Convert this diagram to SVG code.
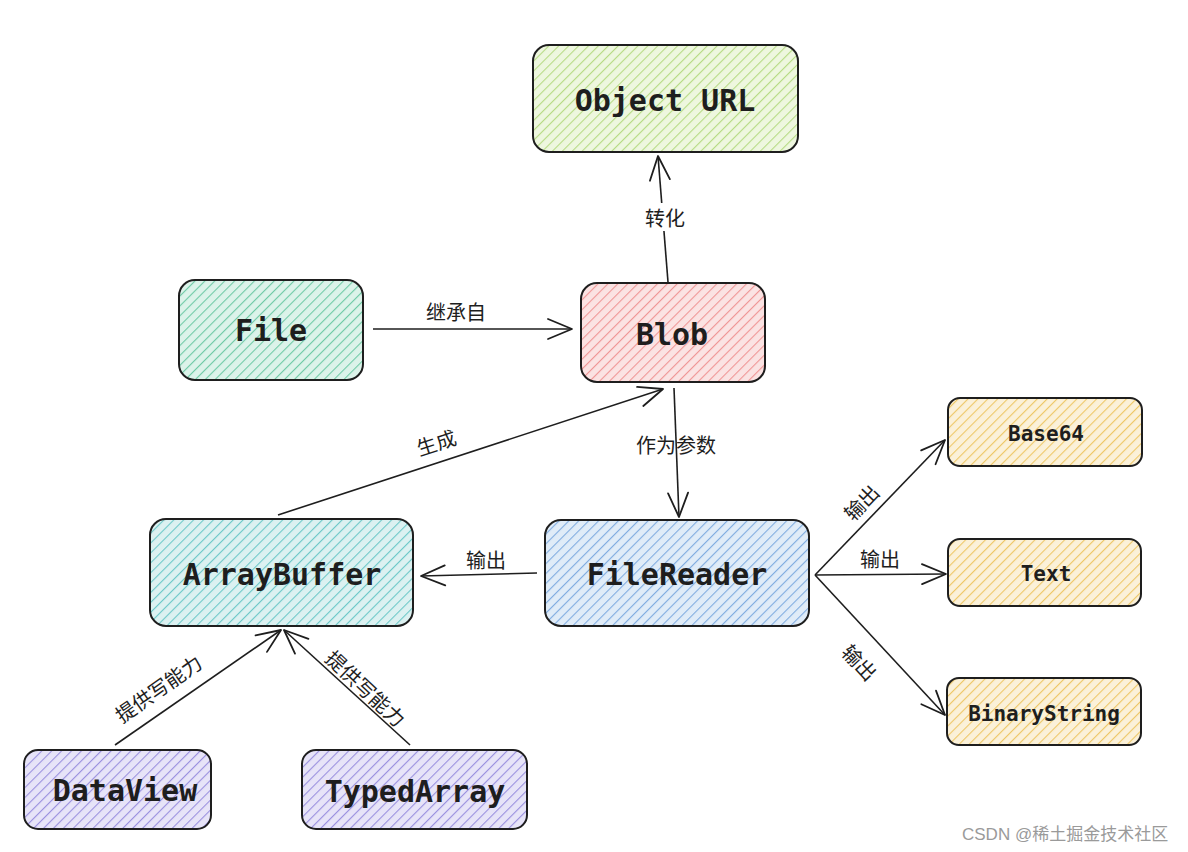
<svg xmlns="http://www.w3.org/2000/svg" width="1188" height="852" viewBox="0 0 1188 852">
<defs>
<pattern id="hG" patternUnits="userSpaceOnUse" width="7" height="7" patternTransform="rotate(45)"><rect width="7" height="7" fill="#eef7df"/><line x1="0" y1="0" x2="0" y2="7" stroke="#b6db83" stroke-width="2.2"/></pattern>
<pattern id="hT" patternUnits="userSpaceOnUse" width="7" height="7" patternTransform="rotate(45)"><rect width="7" height="7" fill="#dcf3ea"/><line x1="0" y1="0" x2="0" y2="7" stroke="#6fcaa6" stroke-width="2.2"/></pattern>
<pattern id="hR" patternUnits="userSpaceOnUse" width="7" height="7" patternTransform="rotate(45)"><rect width="7" height="7" fill="#fbe3e3"/><line x1="0" y1="0" x2="0" y2="7" stroke="#f09595" stroke-width="2.2"/></pattern>
<pattern id="hC" patternUnits="userSpaceOnUse" width="7" height="7" patternTransform="rotate(45)"><rect width="7" height="7" fill="#dcf1f1"/><line x1="0" y1="0" x2="0" y2="7" stroke="#6cc8c8" stroke-width="2.2"/></pattern>
<pattern id="hB" patternUnits="userSpaceOnUse" width="7" height="7" patternTransform="rotate(45)"><rect width="7" height="7" fill="#e0ecf8"/><line x1="0" y1="0" x2="0" y2="7" stroke="#80ace0" stroke-width="2.2"/></pattern>
<pattern id="hY" patternUnits="userSpaceOnUse" width="7" height="7" patternTransform="rotate(45)"><rect width="7" height="7" fill="#fbf1d9"/><line x1="0" y1="0" x2="0" y2="7" stroke="#eec766" stroke-width="2.2"/></pattern>
<pattern id="hP" patternUnits="userSpaceOnUse" width="7" height="7" patternTransform="rotate(45)"><rect width="7" height="7" fill="#e7e4f8"/><line x1="0" y1="0" x2="0" y2="7" stroke="#9a90df" stroke-width="2.2"/></pattern>
<marker id="arr" markerUnits="userSpaceOnUse" markerWidth="40" markerHeight="40" viewBox="-30 -20 40 40" refX="0" refY="0" orient="auto">
<path d="M-24,-10 L0,0 L-24,10" fill="none" stroke="#1e1e1e" stroke-width="1.8" stroke-linecap="round" stroke-linejoin="round"/>
</marker>
</defs>
<style>
.box{stroke:#1e1e1e;stroke-width:2}
.big{font-family:"DejaVu Sans Mono","Liberation Mono",monospace;font-weight:bold;font-size:30px;fill:#1e1e1e;text-anchor:middle;dominant-baseline:central}
.sm{font-family:"DejaVu Sans Mono","Liberation Mono",monospace;font-weight:bold;font-size:21px;fill:#1e1e1e;text-anchor:middle;dominant-baseline:central}
.lbl{font-family:"Noto Sans CJK SC","Noto Sans",sans-serif;font-size:20px;fill:#1e1e1e;text-anchor:middle;dominant-baseline:central}
.ln{stroke:#1e1e1e;stroke-width:1.6;fill:none;marker-end:url(#arr)}
.wm{font-family:"Liberation Sans","Noto Sans CJK SC",sans-serif;font-size:17px;fill:#9a9a9a}
</style>
<rect width="1188" height="852" fill="#ffffff"/>

<g id="connectors">
<line class="ln" x1="668" y1="282" x2="658" y2="156"/>
<rect x="638" y="203" width="54" height="28" fill="#fff"/>
<line class="ln" x1="373" y1="329" x2="572" y2="329"/>
<line class="ln" x1="278" y1="515" x2="663" y2="389"/>
<line class="ln" x1="674" y1="388" x2="679" y2="517"/>
<line class="ln" x1="537" y1="573" x2="421" y2="576"/>
<line class="ln" x1="815" y1="575" x2="945" y2="440"/>
<line class="ln" x1="815" y1="575" x2="946" y2="574"/>
<line class="ln" x1="815" y1="575" x2="945" y2="715"/>
<line class="ln" x1="115" y1="745" x2="281" y2="630"/>
<line class="ln" x1="410" y1="745" x2="284" y2="630"/>
<text class="lbl" x="665" y="217">转化</text>
<text class="lbl" x="456" y="311">继承自</text>
<text class="lbl" x="436" y="442" transform="rotate(-18 436 442)">生成</text>
<text class="lbl" x="676" y="444">作为参数</text>
<text class="lbl" x="486" y="559">输出</text>
<text class="lbl" x="861" y="502" transform="rotate(-46 861 502)">输出</text>
<text class="lbl" x="880" y="558">输出</text>
<text class="lbl" x="860" y="662" transform="rotate(47 860 662)">输出</text>
<text class="lbl" x="158" y="688" transform="rotate(-35 158 688)">提供写能力</text>
<text class="lbl" x="366" y="688" transform="rotate(43 366 688)">提供写能力</text>
</g>

<g id="node-objecturl"><rect class="box" x="533" y="45" width="265" height="107" rx="16" fill="url(#hG)"/><text class="big" x="665" y="100">Object URL</text></g>
<g id="node-file"><rect class="box" x="179" y="280" width="184" height="100" rx="16" fill="url(#hT)"/><text class="big" x="271" y="330">File</text></g>
<g id="node-blob"><rect class="box" x="581" y="283" width="184" height="99" rx="16" fill="url(#hR)"/><text class="big" x="672" y="334">Blob</text></g>
<g id="node-arraybuffer"><rect class="box" x="150" y="519" width="263" height="107" rx="16" fill="url(#hC)"/><text class="big" x="282" y="574">ArrayBuffer</text></g>
<g id="node-filereader"><rect class="box" x="545" y="520" width="264" height="106" rx="16" fill="url(#hB)"/><text class="big" x="677" y="574">FileReader</text></g>
<g id="node-base64"><rect class="box" x="948" y="398" width="194" height="68" rx="12" fill="url(#hY)"/><text class="sm" x="1046" y="434">Base64</text></g>
<g id="node-text"><rect class="box" x="948" y="539" width="193" height="67" rx="12" fill="url(#hY)"/><text class="sm" x="1046" y="574">Text</text></g>
<g id="node-binarystring"><rect class="box" x="947" y="678" width="194" height="67" rx="12" fill="url(#hY)"/><text class="sm" x="1044" y="714">BinaryString</text></g>
<g id="node-dataview"><rect class="box" x="24" y="750" width="187" height="79" rx="14" fill="url(#hP)"/><text class="big" x="125" y="790">DataView</text></g>
<g id="node-typedarray"><rect class="box" x="302" y="750" width="225" height="79" rx="14" fill="url(#hP)"/><text class="big" x="415" y="791">TypedArray</text></g>

<text class="wm" x="962" y="840">CSDN @稀土掘金技术社区</text>
</svg>
